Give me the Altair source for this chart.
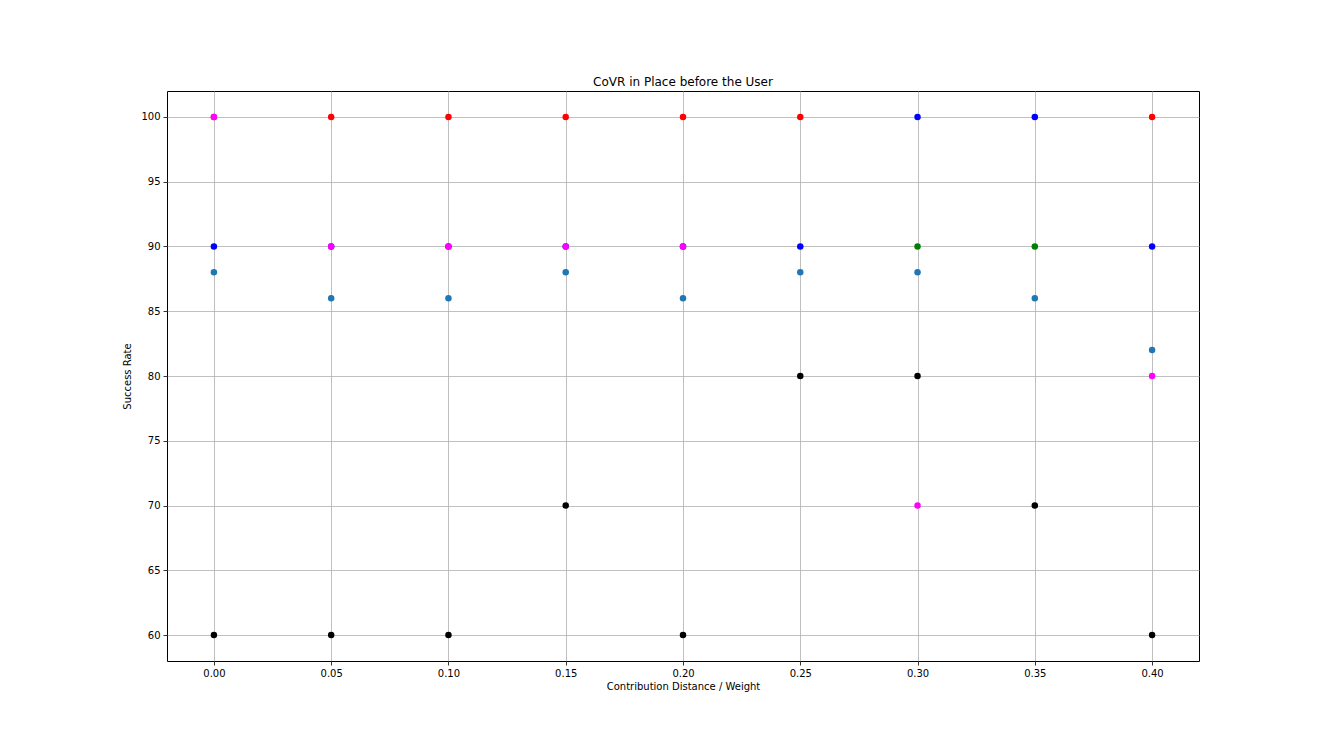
import altair as alt
import pandas as pd

x_vals = [0.00, 0.05, 0.10, 0.15, 0.20, 0.25, 0.30, 0.35, 0.40]

steelblue_vals = [88, 86, 86, 88, 86, 88, 88, 86, 82]
black_vals = [60, 60, 60, 70, 60, 80, 80, 70, 60]
red_vals = [100, 100, 100, 100, 100, 100, None, None, 100]
blue_vals = [90, 90, 90, 90, 90, 90, 100, 100, 90]
green_vals = [None, None, None, None, None, None, 90, 90, None]
magenta_vals = [100, 90, 90, 90, 90, None, 70, None, 80]

series_names = ["s1", "s2", "s3", "s4", "s5", "s6"]
series_colors = ["#1f77b4", "#000000", "#ff0000", "#0000ff", "#008000", "#ff00ff"]
series_data = [steelblue_vals, black_vals, red_vals, blue_vals, green_vals, magenta_vals]

rows = []
order = 0
for name, vals in zip(series_names, series_data):
    for xv, yv in zip(x_vals, vals):
        if yv is not None:
            rows.append({"x": xv, "y": yv, "series": name, "order": order})
            order += 1
df = pd.DataFrame(rows)

chart = alt.Chart(df).mark_circle(size=42, opacity=1).encode(
    x=alt.X("x:Q", scale=alt.Scale(domain=[-0.02, 0.42], nice=False, zero=False),
            axis=alt.Axis(values=x_vals, format=".2f", title="Contribution Distance / Weight")),
    y=alt.Y("y:Q", scale=alt.Scale(domain=[58, 102], nice=False, zero=False),
            axis=alt.Axis(values=[60, 65, 70, 75, 80, 85, 90, 95, 100], title="Success Rate")),
    color=alt.Color("series:N", scale=alt.Scale(domain=series_names, range=series_colors), legend=None),
    order=alt.Order("order:Q"),
).properties(
    width=1032, height=570,
    title=alt.TitleParams("CoVR in Place before the User", fontSize=12, fontWeight="normal",
                          font="DejaVu Sans", color="black", offset=2),
    autosize=alt.AutoSizeParams(type="none"),
    padding={"left": 159, "top": 83, "right": 125, "bottom": 87},
).configure_view(
    stroke="black", strokeWidth=1
).configure_axis(
    grid=True, gridColor="#b0b0b0", gridWidth=0.8, gridOpacity=1,
    domain=False, tickColor="black", tickSize=4, tickWidth=0.8,
    labelFont="DejaVu Sans", labelFontSize=10, labelColor="black",
    titleFont="DejaVu Sans", titleFontSize=10, titleFontWeight="normal", titleColor="black",
    labelPadding=3,
).configure_axisX(titlePadding=3).configure_axisY(titlePadding=8)

chart.save("out.html", embed_options={"renderer": "svg", "actions": False})
